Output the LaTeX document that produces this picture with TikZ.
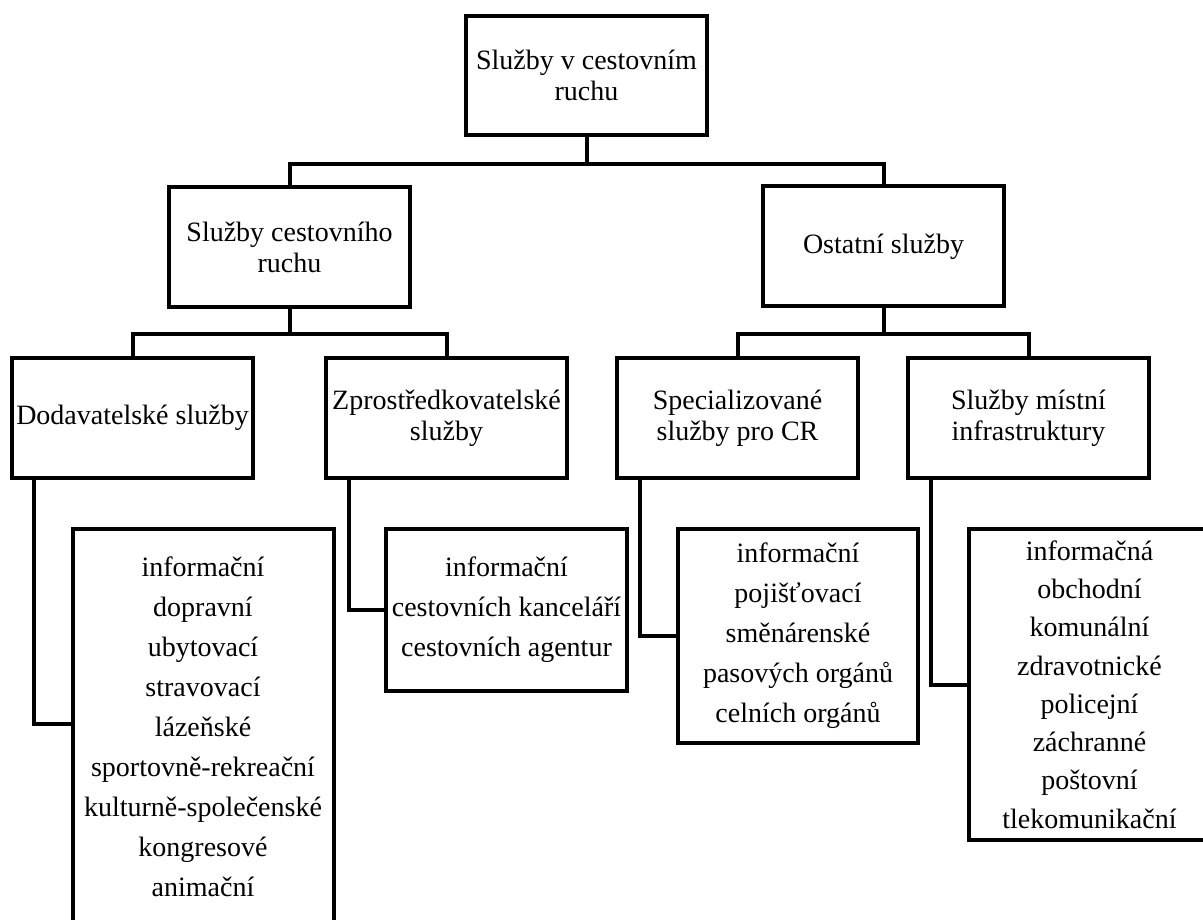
\documentclass[tikz,border=0pt]{standalone}
\usepackage{fontspec}
\setmainfont{Liberation Serif}
\begin{document}
\begin{tikzpicture}[x=1pt,y=-1pt,
  box/.style={draw=black, line width=4pt, inner sep=0pt, align=center,
    font=\fontsize{28}{31}\selectfont, minimum width=241pt, minimum height=120pt},
  listbox/.style={box, font=\fontsize{28}{40}\selectfont},
  link/.style={draw=black, line width=4pt}]
  \fill[white] (0,0) rectangle (1203,920);
  \useasboundingbox (0,0) rectangle (1203,920);

  % level 0
  \node[box, minimum height=119pt] (top) at (586.5,75.5) {Služby v cestovním\\ruchu};

  % level 1
  \node[box] (cr) at (289.5,247) {Služby cestovního\\ruchu};
  \node[box] (ost) at (883.5,246.5) {Ostatní služby};

  % level 2
  \node[box] (dod) at (132.5,418) {Dodavatelské služby};
  \node[box] (zpr) at (446.5,418) {Zprostředkovatelské\\služby};
  \node[box] (spe) at (737.5,418) {Specializované\\služby pro CR};
  \node[box] (mis) at (1028.5,418) {Služby místní\\infrastruktury};

  % lists (the long ones run past the page edge)
  \node[listbox, minimum width=261pt, minimum height=396pt] (dodl) at (203,727)
    {informační\\dopravní\\ubytovací\\stravovací\\lázeňské\\sportovně-rekreační\\kulturně-společenské\\kongresové\\animační};
  \node[listbox, minimum height=162pt] (zprl) at (506.5,610)
    {informační\\cestovních kanceláří\\cestovních agentur};
  \node[listbox, minimum width=240pt, minimum height=214pt] (spel) at (798,636)
    {informační\\pojišťovací\\směnárenské\\pasových orgánů\\celních orgánů};
  \node[listbox, minimum height=311pt, font=\fontsize{28}{38.3}\selectfont] (misl) at (1089.5,684.5)
    {informačná\\obchodní\\komunální\\zdravotnické\\policejní\\záchranné\\poštovní\\tlekomunikační};

  % tree connectors
  \draw[link] (top.south) -- ++(0,27) coordinate (j0);
  \draw[link] (cr.north) |- (j0) -| (ost.north);
  \draw[link] (cr.south) -- ++(0,25) coordinate (j1);
  \draw[link] (dod.north) |- (j1) -| (zpr.north);
  \draw[link] (ost.south) -- ++(0,25) coordinate (j2);
  \draw[link] (spe.north) |- (j2) -| (mis.north);

  % list connectors
  \draw[link] ([xshift=24pt]dod.south west) |- ([yshift=3pt]dodl.west);
  \draw[link] ([xshift=25pt]zpr.south west) |- (zprl.west);
  \draw[link] ([xshift=25pt]spe.south west) |- (spel.west);
  \draw[link] ([xshift=25pt]mis.south west) |- (misl.west);
\end{tikzpicture}
\end{document}
